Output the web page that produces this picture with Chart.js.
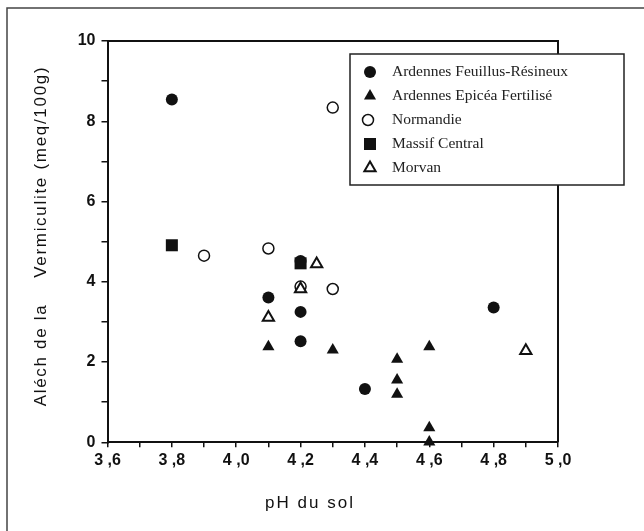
<!DOCTYPE html>
<html lang="fr">
<head>
<meta charset="UTF-8" />
<title>Vermiculite - pH</title>
<script src="https://cdn.jsdelivr.net/npm/chart.js"></script>
<style>
  body { margin: 0; background: #fff; }
  #wrap { width: 644px; height: 531px; }
</style>
</head>
<body>
<div id="wrap"><canvas id="myChart" width="644" height="531"></canvas></div>
<script>
// data
var seriesNames = ["Ardennes Feuillus-Résineux", "Ardennes Epicéa Fertilisé", "Normandie", "Massif Central", "Morvan"];

var feuillusPH  = [3.8, 4.1, 4.2, 4.2, 4.2, 4.4, 4.8];
var feuillusVal = [8.54, 3.61, 4.52, 3.25, 2.52, 1.33, 3.36];

var epiceaPH  = [4.1, 4.3, 4.5, 4.5, 4.5, 4.6, 4.6, 4.6];
var epiceaVal = [2.38, 2.30, 2.07, 1.55, 1.20, 2.38, 0.36, 0.01];

var normandiePH  = [3.9, 4.1, 4.2, 4.3, 4.3];
var normandieVal = [4.65, 4.83, 3.88, 3.82, 8.34];

var massifPH  = [3.8, 4.2];
var massifVal = [4.91, 4.46];

var morvanPH  = [4.1, 4.2, 4.25, 4.9];
var morvanVal = [3.11, 3.82, 4.44, 2.28];

var xMin = 3.6, xMax = 5.0, xStep = 0.1;
var yMin = 0, yMax = 10, yStep = 1;

var xTitle = "pH du sol";
var yTitle = "Aléch de la    Vermiculite (meq/100g)";

function pts(xs, ys) {
  return xs.map(function (x, i) { return { x: x, y: ys[i] }; });
}

var sans = "'Liberation Sans', Arial, sans-serif";
var serif = "'Liberation Serif', 'Times New Roman', serif";

var markers = [
  { style: "circle",   r: 6,   fill: "#111", border: 0 },
  { style: "triangle", r: 7,   fill: "#111", border: 0 },
  { style: "circle",   r: 5.5, fill: "#fff", border: 1.5 },
  { style: "rect",     r: 8.5, fill: "#111", border: 0 },
  { style: "triangle", r: 6.5, fill: "#fff", border: 2 }
];
var allData = [
  pts(feuillusPH, feuillusVal),
  pts(epiceaPH, epiceaVal),
  pts(normandiePH, normandieVal),
  pts(massifPH, massifVal),
  pts(morvanPH, morvanVal)
];
var drawOrder = [4, 3, 2, 0, 1];

var datasets = seriesNames.map(function (name, i) {
  var m = markers[i];
  return {
    label: name,
    data: allData[i],
    order: drawOrder[i],
    clip: false,
    pointStyle: m.style,
    pointRadius: m.r,
    pointHoverRadius: m.r,
    pointBackgroundColor: m.fill,
    pointBorderColor: "#111",
    pointBorderWidth: m.border,
    showLine: false
  };
});

function drawMarker(ctx, m, x, y) {
  ctx.beginPath();
  if (m.style === "circle") {
    ctx.arc(x, y, m.r, 0, Math.PI * 2);
  } else if (m.style === "triangle") {
    ctx.moveTo(x, y - m.r);
    ctx.lineTo(x + m.r * 0.866, y + m.r / 2);
    ctx.lineTo(x - m.r * 0.866, y + m.r / 2);
    ctx.closePath();
  } else {
    var s = m.r * Math.SQRT1_2;
    ctx.rect(x - s, y - s, 2 * s, 2 * s);
  }
  ctx.fillStyle = m.fill;
  ctx.fill();
  if (m.border) {
    ctx.lineWidth = m.border;
    ctx.strokeStyle = "#111";
    ctx.stroke();
  }
}

var decor = {
  id: "decor",
  beforeDraw: function (chart) {
    var ctx = chart.ctx;
    ctx.save();
    ctx.fillStyle = "#fff";
    ctx.fillRect(0, 0, chart.width, chart.height);
    // scanned page border
    ctx.strokeStyle = "#444";
    ctx.lineWidth = 1.5;
    ctx.beginPath();
    ctx.moveTo(644, 8);
    ctx.lineTo(7, 8);
    ctx.lineTo(7, 531);
    ctx.stroke();
    ctx.restore();
  },
  beforeDatasetsDraw: function (chart) {
    var a = chart.chartArea, ctx = chart.ctx;
    ctx.save();
    ctx.strokeStyle = "#111";
    ctx.lineWidth = 2;
    ctx.beginPath();
    ctx.moveTo(a.left, a.top);
    ctx.lineTo(a.right, a.top);
    ctx.lineTo(a.right, a.bottom);
    ctx.stroke();
    ctx.restore();
  },
  afterDraw: function (chart) {
    var ctx = chart.ctx;
    ctx.save();
    // axis titles
    ctx.fillStyle = "#111";
    ctx.font = "17px " + sans;
    ctx.textBaseline = "alphabetic";
    ctx.textAlign = "center";
    ctx.letterSpacing = "2px";
    ctx.fillText(xTitle, 310, 508);
    ctx.save();
    ctx.translate(46, 236);
    ctx.rotate(-Math.PI / 2);
    ctx.letterSpacing = "1.7px";
    ctx.fillText(yTitle, 0, 0);
    ctx.restore();
    ctx.letterSpacing = "0px";

    // legend box
    ctx.fillStyle = "#fff";
    ctx.fillRect(350, 54, 274, 131);
    ctx.strokeStyle = "#222";
    ctx.lineWidth = 1.5;
    ctx.strokeRect(350, 54, 274, 131);
    ctx.font = "15.5px " + serif;
    ctx.textAlign = "left";
    ctx.textBaseline = "middle";
    seriesNames.forEach(function (name, i) {
      var y = 72 + i * 24;
      var mx = markers[i].fill === "#fff" && markers[i].style === "circle" ? 368 : 370;
      drawMarker(ctx, markers[i], mx, y);
      ctx.fillStyle = "#222";
      ctx.fillText(name, 392, y);
    });
    ctx.restore();
  }
};

var ctx = document.getElementById("myChart").getContext("2d");
var chart = new Chart(ctx, {
  type: "scatter",
  data: { datasets: datasets },
  plugins: [decor],
  options: {
    responsive: false,
    animation: false,
    events: [],
    layout: { padding: { top: 41, right: 86, left: 0, bottom: 0 } },
    plugins: {
      legend: { display: false },
      tooltip: { enabled: false },
      title: { display: false }
    },
    scales: {
      x: {
        type: "linear",
        min: xMin,
        max: xMax,
        afterFit: function (s) { s.height = 88.7; },
        border: { display: true, color: "#111", width: 2 },
        grid: { display: true, drawOnChartArea: false, drawTicks: true, tickLength: 5, color: "#111", lineWidth: 1.5 },
        ticks: {
          stepSize: xStep,
          autoSkip: false,
          maxRotation: 0,
          padding: 4,
          color: "#111",
          font: { family: sans, size: 16, weight: "bold" },
          callback: function (v, i) {
            return i % 2 === 0 ? v.toFixed(1).replace(".", " ,") : "";
          }
        }
      },
      y: {
        type: "linear",
        min: yMin,
        max: yMax,
        afterFit: function (s) { s.width = 107.5; },
        border: { display: true, color: "#111", width: 2 },
        grid: { display: true, drawOnChartArea: false, drawTicks: true, tickLength: 6, color: "#111", lineWidth: 1.5 },
        ticks: {
          stepSize: yStep,
          autoSkip: false,
          padding: 6,
          color: "#111",
          font: { family: sans, size: 16, weight: "bold" },
          callback: function (v) { return v % 2 === 0 ? String(v) : ""; }
        }
      }
    }
  }
});
</script>
</body>
</html>
